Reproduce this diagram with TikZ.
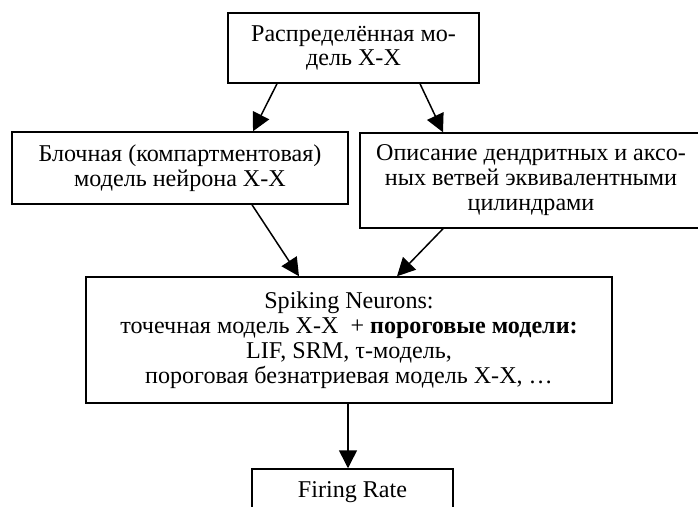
\documentclass[tikz,border=0pt]{standalone}
\usepackage{fontspec}
\setmainfont{Liberation Serif}
\usetikzlibrary{arrows.meta}
\begin{document}
\begin{tikzpicture}[x=1pt,y=-1pt,
  box/.style={draw,line width=1.5pt,rectangle,align=center,inner sep=0pt,
    font=\fontsize{24.1}{24.8}\selectfont},
  arr/.style={line width=1.5pt,-{Triangle[length=18pt,width=18pt]}}]
\useasboundingbox (0,0) rectangle (698,506);
\clip (0,0) rectangle (698,506);
\fill[white] (0,0) rectangle (698,506);

\node[box,minimum width=251pt,minimum height=70pt] (top) at (353.5,48)
  {Распределённая мо-\\дель Х-Х};
\node[box,minimum width=336pt,minimum height=72pt] (left) at (180,168)
  {Блочная (компартментовая)\\модель нейрона Х-Х};
\node[box,minimum width=342pt,minimum height=95pt,text depth=6pt] (right) at (531,180.5)
  {Описание дендритных и аксо-\\ных ветвей эквивалентными\\цилиндрами};
\node[box,minimum width=526pt,minimum height=126pt] (mid) at (349,340)
  {Spiking Neurons:\\точечная модель Х-Х \ + \textbf{пороговые модели:}\\LIF, SRM, τ-модель,\\пороговая безнатриевая модель Х-Х, …};
\node[box,minimum width=201pt,minimum height=46pt] (fire) at (352.5,492)
  {Firing Rate};

\draw[arr] ([xshift=-76.5pt]top.south) -- ([xshift=73pt]left.north);
\draw[arr] ([xshift=66.5pt]top.south) -- ([xshift=-88pt]right.north);
\draw[arr] ([xshift=72pt]left.south) -- ([xshift=-50pt]mid.north);
\draw[arr] ([xshift=-88pt]right.south) -- ([xshift=48pt]mid.north);
\draw[arr] ([xshift=-1pt]mid.south) -- ([xshift=-1pt]mid.south |- fire.north);
\end{tikzpicture}
\end{document}
